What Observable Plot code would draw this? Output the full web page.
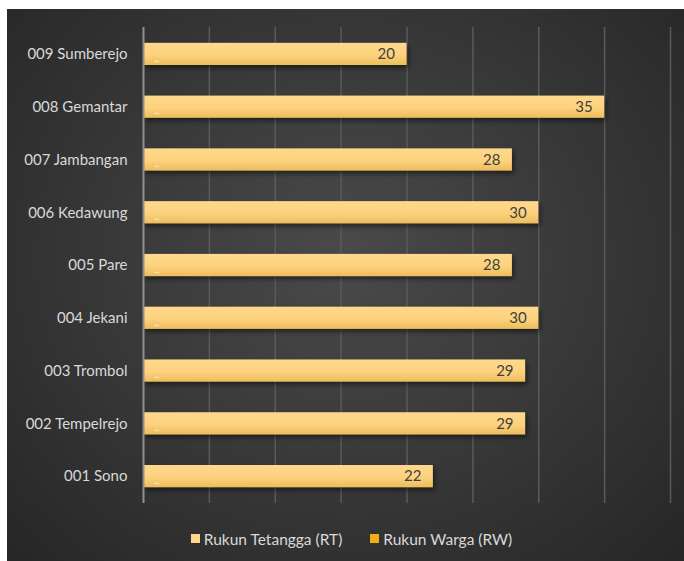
<!DOCTYPE html>
<html>
<head>
<meta charset="utf-8">
<script src="https://cdn.jsdelivr.net/npm/d3@7"></script>
<script src="https://cdn.jsdelivr.net/npm/@observablehq/plot@0.6"></script>
<style>
  html, body { margin: 0; padding: 0; background: #ffffff; }
  #wrap { position: relative; width: 684px; height: 561px; background: #fff; overflow: hidden; }
  #panel { position: absolute; left: 7px; top: 9px; width: 677px; height: 552px;
    background: radial-gradient(ellipse at 50% 45%, #4a4a4a 0%, #3a3a3a 45%, #262626 100%); }
  #chart { position: absolute; left: -7px; top: -9px; }
  #legend { position: absolute; left: 6px; top: 519px; width: 677px; text-align: center;
    font-family: Lato, "Open Sans", sans-serif; font-size: 15.5px; color: #d9d9d9; }
  .item { display: inline-flex; align-items: center; margin: 0 12px; }
  .sw { width: 9px; height: 9px; display: inline-block; margin-right: 4px; }
</style>
</head>
<body>
<div id="wrap"><div id="panel"><div id="chart"></div>
<div id="legend">
  <span class="item"><span class="sw" style="background:#ffd68a"></span>Rukun Tetangga (RT)</span>
  <span class="item"><span class="sw" style="background:#f2b010"></span>Rukun Warga (RW)</span>
</div></div></div>
<script>
const categories = ["009 Sumberejo","008 Gemantar","007 Jambangan","006 Kedawung","005 Pare","004 Jekani","003 Trombol","002 Tempelrejo","001 Sono"];
const rt = [20, 35, 28, 30, 28, 30, 29, 29, 22];
const rw = [1, 1, 1, 1, 1, 1, 1, 1, 1];
const xTicks = [0, 5, 10, 15, 20, 25, 30, 35, 40];

const data = categories.map((c, i) => ({cat: c, rt: rt[i], rw: rw[i]}));

const chart = Plot.plot({
  width: 684,
  height: 561,
  marginLeft: 143,
  marginRight: 14,
  marginTop: 27,
  marginBottom: 58,
  style: {background: "transparent", fontFamily: "Lato, 'Open Sans', sans-serif", fontSize: "15px", color: "#d9d9d9"},
  x: {domain: [0, 40], ticks: xTicks, axis: null},
  y: {domain: categories, paddingInner: 0.58, paddingOuter: 0.3, round: false, label: null, axis: null},
  marks: [
    Plot.ruleX(xTicks.slice(1), {stroke: "#5a5a5a", strokeWidth: 1.5}),
    Plot.barX(data, {x: "rt", y: "cat", fill: "url(#barGrad)", className: "rtbar"}),
    Plot.ruleX([0], {stroke: "#8f8f8f", strokeWidth: 2}),
    Plot.text(data, {x: "rt", y: "cat", text: d => String(d.rt), textAnchor: "end", dx: -12, fill: "#404040", fontSize: 15}),
    Plot.text(data, {x: "rw", y: "cat", text: () => "▬", dy: 6, fill: "#f3e7cf", fontSize: 4}),
    Plot.axisY({tickSize: 0, tickPadding: 16, fill: "#d9d9d9", fontSize: 15})
  ]
});

const svg = d3.select(chart);
const defs = svg.insert("defs", ":first-child");
const g = defs.append("linearGradient").attr("id", "barGrad").attr("x1", 0).attr("y1", 0).attr("x2", 0).attr("y2", 1);
g.append("stop").attr("offset", "0%").attr("stop-color", "#ffd88c");
g.append("stop").attr("offset", "55%").attr("stop-color", "#fdd27e");
g.append("stop").attr("offset", "100%").attr("stop-color", "#edbd5c");
const f = defs.append("filter").attr("id", "shadow").attr("x", "-5%").attr("y", "-30%").attr("width", "115%").attr("height", "180%");
f.append("feDropShadow").attr("dx", 2).attr("dy", 3).attr("stdDeviation", 2.5).attr("flood-color", "#000").attr("flood-opacity", 0.5);
svg.selectAll(".rtbar rect").attr("filter", "url(#shadow)");

document.getElementById("chart").appendChild(chart);
</script>
</body>
</html>
